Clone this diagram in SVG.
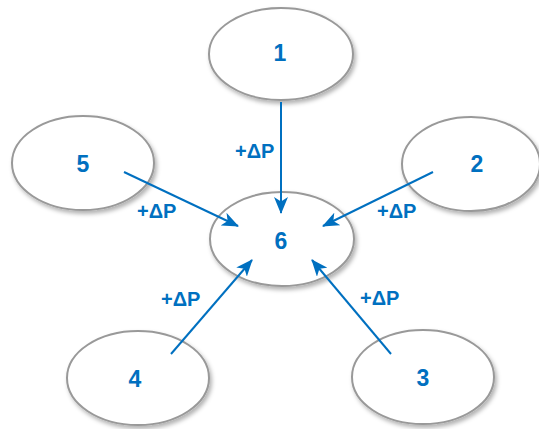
<svg xmlns="http://www.w3.org/2000/svg" width="539" height="429" viewBox="0 0 539 429">
<defs>
<filter id="sh" x="-20%" y="-20%" width="150%" height="150%">
<feDropShadow dx="2" dy="3" stdDeviation="2" flood-color="#000" flood-opacity="0.3"/>
</filter>
<marker id="ah" markerUnits="userSpaceOnUse" markerWidth="18" markerHeight="14" refX="16" refY="7" orient="auto">
<path d="M0,0 L17,7 L0,14 L4.5,7 Z" fill="#0070C0"/>
</marker>
<style>
.n ellipse{fill:#fff;stroke:#999;stroke-width:2;filter:url(#sh)}
.n text{font-family:"Liberation Sans",Arial,sans-serif;font-weight:bold;font-size:23px;fill:#0070C0;text-anchor:middle}
.c line{stroke:#0070C0;stroke-width:2;marker-end:url(#ah)}
.lbl{font-family:"Liberation Sans",Arial,sans-serif;font-weight:bold;font-size:20px;fill:#0070C0}
</style>
</defs>
<rect width="539" height="429" fill="#fff"/>
<g id="node1" class="n"><ellipse cx="281" cy="54" rx="72" ry="46"/><text x="280" y="61">1</text></g>
<g id="node2" class="n"><ellipse cx="471" cy="164" rx="69" ry="47"/><text x="477" y="172">2</text></g>
<g id="node5" class="n"><ellipse cx="83" cy="163" rx="71" ry="47"/><text x="83" y="172">5</text></g>
<g id="node6" class="n"><ellipse cx="282" cy="239" rx="72" ry="47"/><text x="281" y="249">6</text></g>
<g id="node4" class="n"><ellipse cx="138" cy="378" rx="71" ry="47"/><text x="135" y="387">4</text></g>
<g id="node3" class="n"><ellipse cx="423" cy="377" rx="71" ry="47"/><text x="423" y="386">3</text></g>
<g id="connectors" class="c">
<line x1="281" y1="102" x2="281" y2="213"/>
<line x1="124" y1="172" x2="238" y2="226"/>
<line x1="433" y1="172" x2="323" y2="226"/>
<line x1="171" y1="354" x2="252" y2="260"/>
<line x1="391" y1="354" x2="312" y2="260"/>
</g>
<g id="labels">
<text class="lbl" x="235" y="158">+ΔP</text>
<text class="lbl" x="137" y="218">+ΔP</text>
<text class="lbl" x="377" y="218">+ΔP</text>
<text class="lbl" x="161" y="306">+ΔP</text>
<text class="lbl" x="360" y="305">+ΔP</text>
</g>
</svg>
